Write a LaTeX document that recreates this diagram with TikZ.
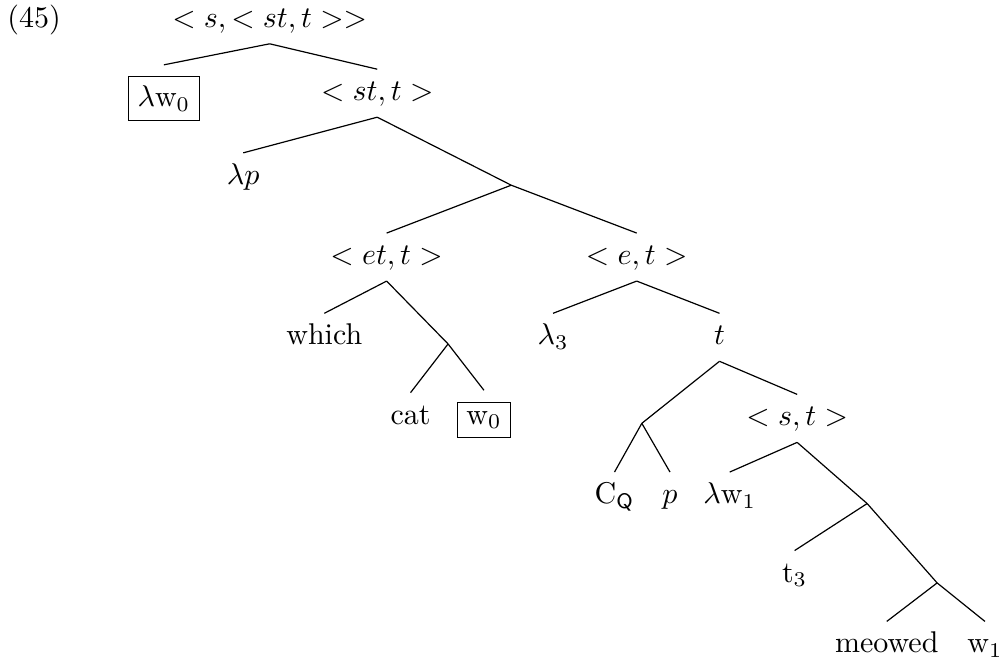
\documentclass[tikz,border=0pt]{standalone}
\usepackage{amsmath}
\usepackage{tikz}

\tikzset{
 lab/.style={anchor=base, inner sep=0pt, outer sep=3.5pt, text height=7pt, text depth=2pt},
 boxed/.style={anchor=base, draw, inner sep=3pt, outer sep=4pt}
}

\begin{document}
\begin{tikzpicture}
 \useasboundingbox (0,0) rectangle (11.74,-7.86);
 \node[anchor=base west, inner sep=0pt] (ex) at (0.08,-0.32) {(45)};

 \node[lab] (root) at (3.16,-0.32) {$<s,<st,t>>$};
 \node[boxed] (lw0) at (1.92,-1.25) {$\lambda\mathrm{w}_0$};
 \node[lab] (stt) at (4.42,-1.18) {$<st,t>$};
 \node[lab] (lp) at (2.85,-2.16) {$\lambda p$};
 \coordinate (j1) at (5.99,-2.17);
 \node[lab] (ett) at (4.53,-3.10) {$<et,t>$};
 \node[lab] (et) at (7.46,-3.10) {$<e,t>$};
 \node[lab] (which) at (3.80,-4.04) {which};
 \coordinate (j2) at (5.25,-4.03);
 \node[lab] (cat) at (4.81,-4.97) {cat};
 \node[boxed] (w0) at (5.67,-4.97) {$\mathrm{w}_0$};
 \node[lab] (l3) at (6.48,-4.04) {$\lambda_3$};
 \node[lab] (t) at (8.43,-4.04) {$t$};
 \coordinate (j3) at (7.52,-4.96);
 \node[lab] (st) at (9.34,-4.99) {$<s,t>$};
 \node[lab] (cq) at (7.20,-5.90) {$\mathrm{C}_{\mathsf{Q}}$};
 \node[lab] (p) at (7.85,-5.90) {$p$};
 \node[lab] (lw1) at (8.55,-5.90) {$\lambda\mathrm{w}_1$};
 \coordinate (j4) at (10.16,-5.90);
 \node[lab] (t3) at (9.31,-6.82) {$\mathrm{t}_3$};
 \coordinate (j5) at (10.98,-6.83);
 \node[lab] (meowed) at (10.39,-7.65) {meowed};
 \node[lab] (w1) at (11.54,-7.65) {$\mathrm{w}_1$};

 \draw (root.south) -- (lw0.north);
 \draw (root.south) -- (stt.north);
 \draw (stt.south) -- (lp.north);
 \draw (stt.south) -- (j1);
 \draw (j1) -- (ett.north);
 \draw (j1) -- (et.north);
 \draw (ett.south) -- (which.north);
 \draw (ett.south) -- (j2);
 \draw (j2) -- (cat.north);
 \draw (j2) -- (w0.north);
 \draw (et.south) -- (l3.north);
 \draw (et.south) -- (t.north);
 \draw (t.south) -- (j3);
 \draw (t.south) -- (st.north);
 \draw (j3) -- (cq.north);
 \draw (j3) -- (p.north);
 \draw (st.south) -- (lw1.north);
 \draw (st.south) -- (j4);
 \draw (j4) -- (t3.north);
 \draw (j4) -- (j5);
 \draw (j5) -- (meowed.north);
 \draw (j5) -- (w1.north);
\end{tikzpicture}
\end{document}
